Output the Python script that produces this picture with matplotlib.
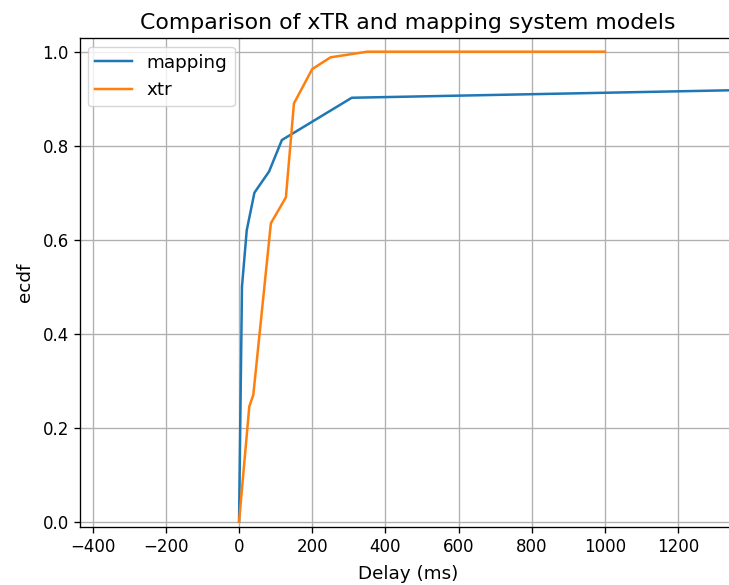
import matplotlib
matplotlib.use("Agg")
import matplotlib.pyplot as plt

# mapping system model ECDF (delay ms, ecdf)
mapping_x = [0, 8, 21, 42, 82, 117, 308, 2000]
mapping_y = [0.0, 0.50, 0.62, 0.70, 0.745, 0.812, 0.902, 0.928]

# xTR model ECDF
xtr_x = [0, 28, 39, 87, 128, 150, 200, 250, 350, 1000]
xtr_y = [0.0, 0.245, 0.27, 0.635, 0.69, 0.89, 0.963, 0.988, 1.0, 1.0]

title = "Comparison of xTR and mapping system models"
xlabel = "Delay (ms)"
ylabel = "ecdf"

s = 1.2
W, H = 729, 585
fig = plt.figure(figsize=(W / 100, H / 100), dpi=100)
left, right, top, bottom = 79.5, 736, 38.3, 527
ax = fig.add_axes([left / W, (H - bottom) / H, (right - left) / W, (bottom - top) / H])

ax.plot(mapping_x, mapping_y, color="#1f77b4", lw=1.5 * s, label="mapping")
ax.plot(xtr_x, xtr_y, color="#ff7f0e", lw=1.5 * s, label="xtr")

ax.set_xlim(-436, 1358)
ax.set_ylim(-0.0113, 1.0285)
ax.set_xticks(range(-400, 1201, 200))
ax.set_yticks([0.0, 0.2, 0.4, 0.6, 0.8, 1.0])
ax.grid(True, color="#b0b0b0", lw=0.8 * s)
ax.tick_params(labelsize=10 * s, width=0.8 * s, length=3.5 * s)
for sp in ax.spines.values():
    sp.set_linewidth(0.8 * s)
ax.spines["right"].set_visible(False)

ax.set_title(title, fontsize=15.8, pad=7)
ax.set_xlabel(xlabel, fontsize=13.2, labelpad=6.5)
ax.set_ylabel(ylabel, fontsize=13.2, labelpad=6)
ax.legend(loc="upper left", fontsize=13.2, borderaxespad=0.45)

fig.savefig("out.png", dpi=100)
